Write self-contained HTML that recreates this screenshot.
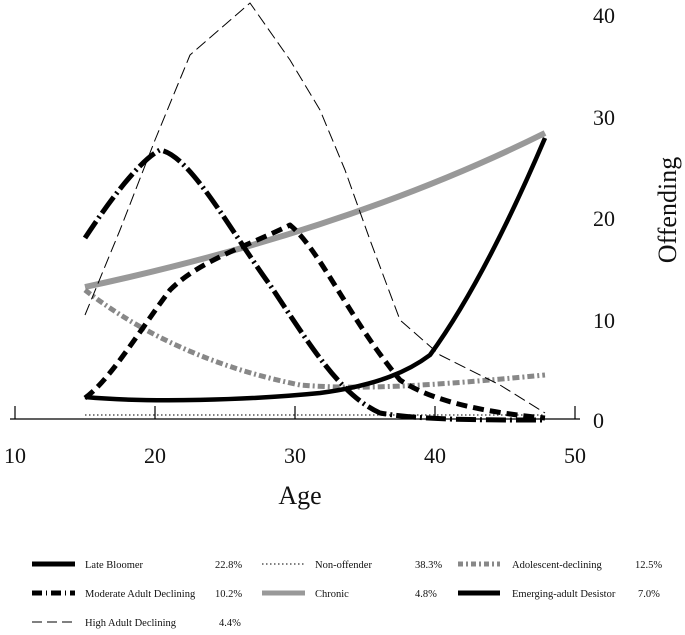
<!DOCTYPE html>
<html><head><style>
body{margin:0;background:#fff;}
svg text{font-family:"Liberation Serif",serif;fill:#111;}
</style></head><body>
<svg width="685" height="630" viewBox="0 0 685 630" xmlns="http://www.w3.org/2000/svg">
<g fill="none" stroke-linejoin="round">
<line x1="10" y1="419" x2="580" y2="419" stroke="#000" stroke-width="1.3"/>
<g stroke="#000" stroke-width="1.2">
<line x1="15" y1="406" x2="15" y2="419"/><line x1="155" y1="406" x2="155" y2="419"/>
<line x1="295" y1="406" x2="295" y2="419"/><line x1="435" y1="406" x2="435" y2="419"/>
<line x1="575" y1="406" x2="575" y2="419"/></g>
<line x1="85" y1="415" x2="545" y2="415" stroke="#555" stroke-width="1.5" stroke-dasharray="1.5,2.5"/>
<path d="M85,287 Q350,230 545,133" stroke="#999" stroke-width="6"/>
<path d="M85,290 C130,325 200,365 300,385 C360,390 430,386 545,375" stroke="#888" stroke-width="5" stroke-dasharray="7,3,2,3"/>
<path d="M85,315 L120,230 L155,140 L190,55 L250,3 L290,60 L320,110 L345,170 L370,240 L400,320 L440,355 L500,385 L545,413" stroke="#000" stroke-width="1" stroke-dasharray="12,5"/>
<path d="M85,398 C110,380 140,330 170,290 C200,260 250,245 290,225 C320,250 350,320 400,380 C430,400 480,412 545,418" stroke="#000" stroke-width="5" stroke-dasharray="11,6"/>
<path d="M85,238 C110,200 140,160 160,150 C190,155 230,230 270,285 C310,345 340,395 380,413 C420,420 480,420 545,420" stroke="#000" stroke-width="5" stroke-dasharray="20,4,2,4"/>
<path d="M85,397 C150,403 250,400 320,393 C380,385 410,370 430,355 C470,300 510,220 545,138" stroke="#000" stroke-width="4.5"/>
<line x1="32" y1="564" x2="75" y2="564" stroke="#000" stroke-width="5"/>
<line x1="262" y1="564" x2="305" y2="564" stroke="#555" stroke-width="1.5" stroke-dasharray="1.5,2.5"/>
<line x1="458" y1="564" x2="500" y2="564" stroke="#888" stroke-width="5" stroke-dasharray="5,3,2,3"/>
<line x1="32" y1="593" x2="75" y2="593" stroke="#000" stroke-width="5" stroke-dasharray="10,4,1,4"/>
<line x1="262" y1="593" x2="305" y2="593" stroke="#999" stroke-width="5"/>
<line x1="458" y1="593" x2="500" y2="593" stroke="#000" stroke-width="5"/>
<line x1="32" y1="622" x2="75" y2="622" stroke="#000" stroke-width="1" stroke-dasharray="10,5"/>
</g>
<g font-size="22">
<text x="15" y="463" text-anchor="middle">10</text><text x="155" y="463" text-anchor="middle">20</text>
<text x="295" y="463" text-anchor="middle">30</text><text x="435" y="463" text-anchor="middle">40</text>
<text x="575" y="463" text-anchor="middle">50</text>
<text x="593" y="428">0</text><text x="593" y="328">10</text><text x="593" y="226">20</text>
<text x="593" y="125">30</text><text x="593" y="23">40</text>
</g>
<text x="300" y="504" font-size="26" text-anchor="middle">Age</text>
<text transform="translate(676,210) rotate(-90)" font-size="26" text-anchor="middle">Offending</text>
<g font-size="10.5">
<text x="85" y="568">Late Bloomer</text><text x="215" y="568">22.8%</text>
<text x="315" y="568">Non-offender</text><text x="415" y="568">38.3%</text>
<text x="512" y="568">Adolescent-declining</text><text x="635" y="568">12.5%</text>
<text x="85" y="597">Moderate Adult Declining</text><text x="215" y="597">10.2%</text>
<text x="315" y="597">Chronic</text><text x="415" y="597">4.8%</text>
<text x="512" y="597">Emerging-adult Desistor</text><text x="638" y="597">7.0%</text>
<text x="85" y="626">High Adult Declining</text><text x="219" y="626">4.4%</text>
</g>
</svg>
</body></html>
